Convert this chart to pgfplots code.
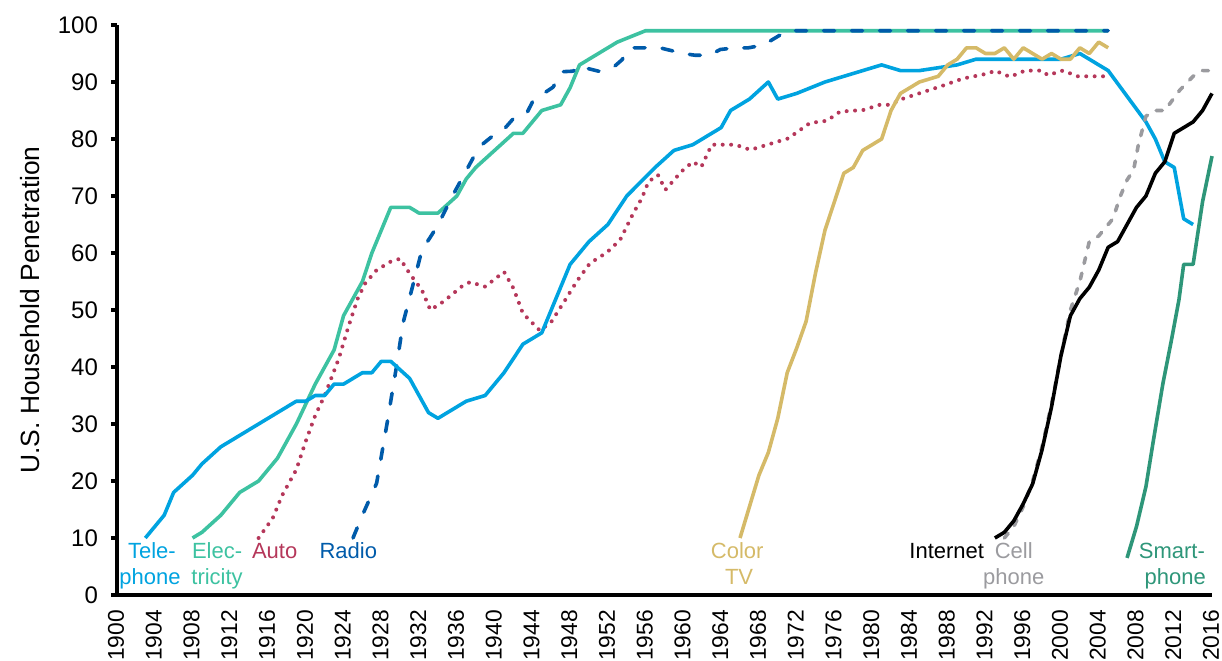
\documentclass[border=0pt]{standalone}
\usepackage{pgfplots}
\pgfplotsset{compat=1.18}
\usepackage{fontspec}
\setmainfont{Liberation Sans}
\definecolor{tel}{HTML}{00A3E0}
\definecolor{ele}{HTML}{3DC2A1}
\definecolor{aut}{HTML}{B5375A}
\definecolor{rad}{HTML}{005BAA}
\definecolor{ctv}{HTML}{D5BA68}
\definecolor{cel}{HTML}{9B9B9F}
\definecolor{smp}{HTML}{2E9679}
\begin{document}
\begin{tikzpicture}
\path[use as bounding box] (0,0) rectangle (611pt,330pt);
\begin{axis}[
  at={(58.5pt,32.5pt)}, anchor=south west,
  scale only axis, width=547.5pt, height=285pt,
  xmin=1900, xmax=2016, ymin=0, ymax=100,
  axis x line=bottom, axis y line=left,
  axis line style={-, line width=1.6pt, black},
  xtick={1900,1904,...,2016}, ytick={0,10,...,100},
  major x tick style={draw=none},
  major y tick style={line width=1.6pt, black},
  tick align=outside, major tick length=3pt,
  /pgf/number format/assume math mode=true,
  /pgf/number format/1000 sep={},
  ticklabel style={font=\fontsize{12}{14}\selectfont},
  xticklabel style={font=\fontsize{11.4}{13}\selectfont, yshift=-1pt, xshift=-0.5pt, rotate=90, anchor=east, text depth=0pt},
  yticklabel style={xshift=-3pt},
  ylabel={U.S. Household Penetration},
  ylabel style={font=\fontsize{13.2}{15}\selectfont, at={(axis description cs:-0.0795,0.5)}, anchor=center, rotate=0},
  clip=false,
  line join=round,
]
% Electricity
\addplot[ele, line width=1.8pt] coordinates {(1908,10)(1909,11)(1911,14)(1913,18)(1915,20)(1917,24)(1919,30)(1921,37)(1923,43)(1924,49)(1926,55)(1927,60)(1929,68)(1931,68)(1932,67)(1934,67)(1936,70)(1937,73)(1938,75)(1942,81)(1943,81)(1945,85)(1947,86)(1948,89)(1949,93)(1953,97)(1956,99)(2005,99)};
% Radio
\addplot[rad, line width=1.8pt, line cap=round, dash pattern=on 5.5pt off 8.5pt] coordinates {(1925,10)(1926,14)(1927.5,19.6)(1928.6,30)(1929.6,40)(1930.3,47.7)(1931.4,54.7)(1932.3,60.5)(1933.2,62.8)(1934,64.9)(1935.6,70.2)(1937.7,76.6)(1938.8,79.2)(1939.7,80.4)(1941.1,81.9)(1942,83.6)(1943.4,84.5)(1944.1,86.8)(1945.2,88)(1946.2,89.1)(1947.1,91.8)(1948.3,91.9)(1949.2,93)(1949.8,92.4)(1951,91.9)(1952.6,92.6)(1953.5,93.9)(1954.3,96)(1957.5,96)(1960,95)(1961.2,94.7)(1962.8,94.7)(1963.9,95.7)(1965.5,96)(1966.9,96)(1968.5,96.5)(1969.5,97.5)(1971,99)(2005,99)};
% Auto
\addplot[aut, line width=2pt, line cap=round, dash pattern=on 0pt off 4.2pt] coordinates {(1915,10)(1916.5,13.5)(1917.5,17.5)(1919,22)(1920,27)(1921,31.5)(1922,35)(1923.5,41.5)(1924.5,47)(1925.5,52)(1926.3,54.7)(1927.5,57)(1929,58.5)(1930,59)(1931,56.4)(1932.3,53.5)(1933.2,50)(1934.6,51.5)(1936.5,54.1)(1937.4,54.9)(1939,54.1)(1941,56.7)(1942,53.8)(1943,49.4)(1944.8,46.4)(1946,47.9)(1947.5,51.8)(1948.7,55)(1950.1,58.2)(1951.9,60.1)(1953.3,62.3)(1954.7,67)(1955.6,69.6)(1956.3,72.5)(1957.3,73.7)(1958.1,71.1)(1959.8,74.3)(1961,76)(1961.9,75.1)(1963,79)(1965.5,79)(1967.1,78.1)(1971.1,80.1)(1973.4,82.8)(1975.2,83.2)(1976.6,84.8)(1979.1,85.1)(1980.8,86)(1981.9,86)(1983.3,87.1)(1987.2,89.2)(1989.6,90.6)(1992.3,91.5)(1993,92)(1994.6,90.9)(1996.2,92)(1998,92)(1998.6,91.2)(2000.2,92)(2001.8,91)(2005,91)};
% Telephone
\addplot[tel, line width=1.8pt] coordinates {(1903,10)(1905,14)(1906,18)(1908,21)(1909,23)(1911,26)(1913,28)(1915,30)(1917,32)(1919,34)(1920,34)(1921,35)(1922,35)(1923,37)(1924,37)(1926,39)(1927,39)(1928,41)(1929,41)(1931,38)(1933,32)(1934,31)(1937,34)(1939,35)(1941,39)(1943,44)(1945,46)(1948,58)(1950,62)(1952,65)(1954,70)(1957,75)(1959,78)(1961,79)(1964,82)(1965,85)(1967,87)(1969,90)(1970,87)(1972,88)(1975,90)(1981,93)(1983,92)(1985,92)(1989,93)(1991,94)(2000,94)(2002,95)(2005,92)(2007,87.5)(2009,83)(2010,80)(2011,76)(2012,75)(2013,66)(2014,65)};
% Color TV
\addplot[ctv, line width=1.8pt] coordinates {(1966,10)(1967,15.5)(1968,21)(1969,25)(1970,31)(1971,39)(1972,43.3)(1973,48)(1974,56.5)(1975,64)(1977,74)(1978,75)(1979,78)(1981,80)(1982,85)(1983,88)(1985,90)(1987,91)(1988,93)(1989,94)(1990,96)(1991,96)(1992,95)(1993,95)(1994,96)(1995,94)(1996,96)(1997,95)(1998,94)(1999,95)(2000,94)(2001,94)(2002,96)(2003,95)(2004,97)(2005,96)};
% Cell phone
\addplot[cel, line width=1.8pt, line cap=round, dash pattern=on 3pt off 5pt] coordinates {(1994,10)(1995,12)(1996,15.5)(1997,20)(1998,26)(1999,33.5)(2000,42)(2001,50)(2002,55)(2003,62)(2004,63)(2005.5,66)(2006.3,70)(2007,72.8)(2007.7,74.6)(2008.2,79)(2009,84)(2010,85)(2011,85)(2012.6,88.6)(2014,91)(2015,92)(2016,92)};
% Internet
\addplot[black, line width=1.8pt] coordinates {(1993,10)(1994,11)(1995,13)(1996,16)(1997,19.5)(1998,25.5)(1999,33)(2000,42)(2001,49)(2002,52)(2003,54)(2004,57)(2005,61)(2006,62)(2007,65)(2008,68)(2009,70)(2010,74)(2011,76)(2012,81)(2013,82)(2014,83)(2015,85)(2016,88)};
% Smartphone
\addplot[smp, line width=1.8pt] coordinates {(2007,6.5)(2008,12)(2009,19)(2009.8,27.2)(2010.8,37.1)(2011.7,44.7)(2012.5,51.8)(2013,58)(2014,58)(2015,69)(2016,77)};
% labels
\tikzset{lab/.style={font=\fontsize{11}{13}\selectfont, anchor=base, inner sep=0pt}}
\node[lab, text=tel] at (axis cs:1903.7,6.4) {Tele-};
\node[lab, text=tel] at (axis cs:1903.5,1.9) {phone};
\node[lab, text=ele] at (axis cs:1910.6,6.4) {Elec-};
\node[lab, text=ele] at (axis cs:1910.6,1.9) {tricity};
\node[lab, text=aut] at (axis cs:1916.7,6.4) {Auto};
\node[lab, text=rad] at (axis cs:1924.5,6.4) {Radio};
\node[lab, text=ctv] at (axis cs:1965.7,6.4) {Color};
\node[lab, text=ctv] at (axis cs:1965.9,1.9) {TV};
\node[lab, text=black] at (axis cs:1987.9,6.4) {Internet};
\node[lab, text=cel] at (axis cs:1995.0,6.4) {Cell};
\node[lab, text=cel] at (axis cs:1995.0,1.9) {phone};
\node[lab, text=smp] at (axis cs:2011.75,6.4) {Smart-};
\node[lab, text=smp] at (axis cs:2012.1,1.9) {phone};
\end{axis}
\end{tikzpicture}
\end{document}
